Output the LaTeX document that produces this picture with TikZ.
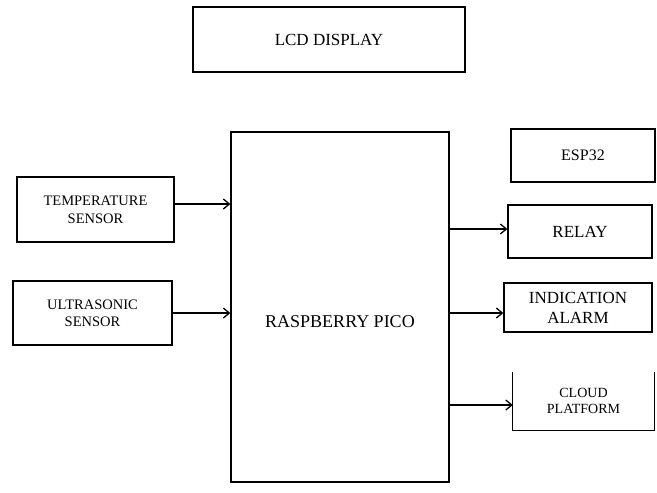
\documentclass[tikz,border=0pt]{standalone}
\usepackage{fontspec}
\setmainfont{Liberation Serif}
\usetikzlibrary{calc,arrows.meta}

\begin{document}
\begin{tikzpicture}[x=1pt,y=-1pt,
    blk/.style={draw,rectangle,line width=1.3pt,inner sep=0pt,align=center},
    conn/.style={line width=1.3pt,-{Straight Barb[length=6pt,width=10pt,line width=1.3pt]}},
    lbl/.style={font=\fontsize{#1}{#1}\selectfont}]
  \useasboundingbox (0,0) rectangle (657,493);
  % top display
  \node[blk,minimum width=272,minimum height=65,lbl=17](lcd)at(329,39.5){LCD DISPLAY};
  % controller
  \node[blk,minimum width=218,minimum height=350](pico)at(340,307){};
  \node[lbl=18](picotext)at(340,322){RASPBERRY PICO};
  % inputs
  \node[blk,minimum width=157,minimum height=65,font=\fontsize{14.5}{18}\selectfont](temp)at(95.5,209.5){TEMPERATURE\\SENSOR};
  \node[blk,minimum width=159,minimum height=64,font=\fontsize{14.5}{17}\selectfont](ultra)at(92.5,313){ULTRASONIC\\SENSOR};
  % outputs
  \node[blk,minimum width=144,minimum height=53,lbl=16](esp)at(583,155.5){ESP32};
  \node[blk,minimum width=144,minimum height=53,lbl=17](relay)at(580,231.5){RELAY};
  \node[blk,minimum width=148,minimum height=49,font=\fontsize{17}{20}\selectfont](alarm)at(578,307.5){INDICATION\\ALARM};
  \node[align=center,minimum width=141,minimum height=58,inner sep=0pt,font=\fontsize{14}{16}\selectfont](cloud)at(583.5,401){CLOUD\\PLATFORM};
  \draw[line width=1.3pt](cloud.north west)--(cloud.south west)--(cloud.south east)--(cloud.north east);
  % connectors
  \draw[conn]([yshift=5.5pt]temp.east)--([yshift=5.5pt]temp.east -| pico.west);
  \draw[conn](ultra.east)--(ultra.east -| pico.west);
  \draw[conn]([yshift=2.5pt]relay.west -| pico.east)--([yshift=2.5pt]relay.west);
  \draw[conn]([yshift=-5.5pt]alarm.west -| pico.east)--([yshift=-5.5pt]alarm.west);
  \draw[conn]([yshift=-4pt]cloud.west -| pico.east)--([yshift=-4pt]cloud.west);
\end{tikzpicture}
\end{document}
